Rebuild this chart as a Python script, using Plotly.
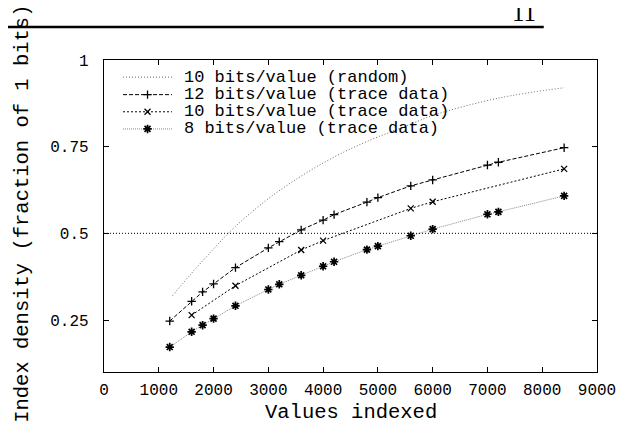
import plotly.graph_objects as go

# ---- data ----
x_trace = [1200, 1600, 1800, 2000, 2400, 3000, 3200, 3600, 4000, 4200,
           4800, 5000, 5600, 6000, 7000, 7200, 8400]
y_12bit = [0.247, 0.304, 0.331, 0.354, 0.401, 0.458, 0.476, 0.510, 0.538, 0.554,
           0.590, 0.603, 0.637, 0.654, 0.697, 0.705, 0.747]
y_8bit = [0.172, 0.216, 0.235, 0.254, 0.291, 0.338, 0.353, 0.379, 0.405, 0.418,
          0.453, 0.463, 0.493, 0.512, 0.555, 0.562, 0.608]
x_10bit = [1600, 2400, 3600, 4000, 5600, 6000, 8400]
y_10bit = [0.264, 0.349, 0.452, 0.479, 0.572, 0.591, 0.686]
x_random = [1250, 1600, 2000, 2400, 3000, 3600, 4200, 4800, 5600, 6000, 7200, 8400]
y_random = [0.32, 0.385, 0.455, 0.52, 0.60, 0.665, 0.72, 0.765, 0.815, 0.84, 0.89, 0.92]
ref_level = 0.5

series_names = ["10 bits/value (random)", "12 bits/value (trace data)",
                "10 bits/value (trace data)", "8 bits/value (trace data)"]
x_ticks = [0, 1000, 2000, 3000, 4000, 5000, 6000, 7000, 8000, 9000]
y_ticks = [0.25, 0.5, 0.75, 1]
y_ticktext = ["0.25", "0.5", "0.75", "1"]
page_number = "11"

MONO = "Liberation Mono"

styles = [
    dict(line=dict(color="#666666", width=1, dash="1px,2px"), mode="lines", marker=None),
    dict(line=dict(color="black", width=1, dash="4px,2px"), mode="lines+markers",
         marker=dict(symbol="cross-thin-open", size=6, color="black", line=dict(color="black", width=1.3))),
    dict(line=dict(color="black", width=1, dash="2px,2px"), mode="lines+markers",
         marker=dict(symbol="x-thin-open", size=6, color="black", line=dict(color="black", width=1.3))),
    dict(line=dict(color="#888888", width=1, dash="1px,1px"), mode="lines+markers",
         marker=dict(symbol="asterisk-open", size=7, color="black", line=dict(color="black", width=1.7))),
]

series = [(x_random, y_random), (x_trace, y_12bit), (x_10bit, y_10bit), (x_trace, y_8bit)]

fig = go.Figure()
for (xs, ys), st, name in zip(series, styles, series_names):
    kw = dict(x=xs, y=ys, mode=st["mode"], line=st["line"], name=name, showlegend=False)
    if st["marker"] is not None:
        kw["marker"] = st["marker"]
    if name.endswith("(random)"):
        kw["line_shape"] = "spline"
    fig.add_trace(go.Scatter(**kw))

# ---- hand-drawn key (gnuplot style), on an overlay axis in plot fractions ----
key_x0, key_x1, key_text_x = 0.0386, 0.138, 0.1585
key_rows = [0.945, 0.889, 0.834, 0.779]
for st, name, ky in zip(styles, series_names, key_rows):
    kw = dict(x=[key_x0, key_x1], y=[ky, ky], mode="lines", line=st["line"],
              xaxis="x2", yaxis="y2", showlegend=False, hoverinfo="skip")
    fig.add_trace(go.Scatter(**kw))
    if st["marker"] is not None:
        fig.add_trace(go.Scatter(x=[(key_x0 + key_x1) / 2], y=[ky], mode="markers",
                                 marker=st["marker"], xaxis="x2", yaxis="y2",
                                 showlegend=False, hoverinfo="skip"))
    fig.add_annotation(x=key_text_x, y=ky, xref="x2", yref="y2", text=name,
                       showarrow=False, xanchor="left", yanchor="middle",
                       font=dict(family=MONO, size=17, color="black"))

# horizontal reference line at 0.5
fig.add_shape(type="line", xref="paper", yref="y", x0=0, x1=1, y0=ref_level, y1=ref_level,
              line=dict(color="black", width=1, dash="1px,2px"))

# page header rule and page number (scanned paper page)
fig.add_shape(type="line", xref="paper", yref="paper", x0=-0.23, x1=0.892,
              y0=1.1058, y1=1.1058, line=dict(color="black", width=2.5))
fig.add_annotation(x=0.852, y=1.103, xref="paper", yref="paper", text=page_number,
                   showarrow=False, xanchor="center", yanchor="bottom",
                   font=dict(family="Liberation Serif", size=25, color="black"))

# axis titles
fig.add_annotation(x=0.5, y=-0.13, xref="paper", yref="paper", text="Values indexed",
                   showarrow=False, xanchor="center", yanchor="middle",
                   font=dict(family=MONO, size=20.5, color="black"))
fig.add_annotation(x=-0.167, y=0.506, xref="paper", yref="paper",
                   text="Index density (fraction of 1 bits)", textangle=-90,
                   showarrow=False, xanchor="center", yanchor="middle",
                   font=dict(family=MONO, size=20.5, color="black"))

axis_common = dict(showline=True, linecolor="black", linewidth=1.3, mirror="ticks",
                   ticks="inside", ticklen=5, tickwidth=1, tickcolor="black",
                   showgrid=False, zeroline=False,
                   tickfont=dict(family=MONO, size=16, color="black"))

# margins compensate for the 8px default body margin of the html page
fig.update_layout(
    width=636, height=427,
    margin=dict(l=96, r=47, t=52, b=63, autoexpand=False),
    paper_bgcolor="white", plot_bgcolor="white",
    xaxis=dict(range=[0, 9000], tickvals=x_ticks, ticklabelstandoff=3, **axis_common),
    yaxis=dict(range=[0.1, 1.0], tickvals=y_ticks, ticktext=y_ticktext,
               ticklabelstandoff=11, **axis_common),
    xaxis2=dict(overlaying="x", range=[0, 1], visible=False, fixedrange=True),
    yaxis2=dict(overlaying="y", range=[0, 1], visible=False, fixedrange=True),
    showlegend=False,
)

fig.write_html("out.html")
